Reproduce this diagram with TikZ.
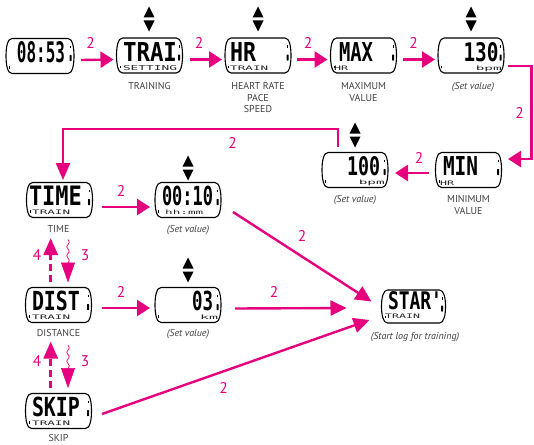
\documentclass[tikz,border=0pt]{standalone}
\usepackage{fontspec}
\setmainfont{PT Sans}
\newfontfamily\lcdfont{DejaVu Sans Mono}
\usetikzlibrary{arrows.meta,decorations.pathmorphing}
\definecolor{mag}{HTML}{E6007E}
\definecolor{capgray}{HTML}{3F3F3F}
\tikzset{
  pics/watch/.style 2 args={code={
    \draw[line width=1.1pt, line join=round] (-#1+6,-#2) -- (#1-6,-#2)
      .. controls (#1-1.5,-#2) and (#1,-#2*0.5) .. (#1,0)
      .. controls (#1,#2*0.5) and (#1-1.5,#2) .. (#1-6,#2) -- (-#1+6,#2)
      .. controls (-#1+1.5,#2) and (-#1,#2*0.5) .. (-#1,0)
      .. controls (-#1,-#2*0.5) and (-#1+1.5,-#2) .. cycle;
    \fill[rounded corners=0.5pt] (#1-4.5,-1) rectangle (#1-2.5,5);
    \draw[line width=0.6pt] (#1-3.5,-#2+7) -- (#1-3.5,-#2+9.5);
    \draw[line width=0.6pt] (-#1+3.5,#2-5) -- (-#1+3.5,#2-7.5);
  }},
  pics/updown/.style={code={
    \fill (0,-12.5) -- (5.5,-1.5) -- (-5.5,-1.5) -- cycle;
    \fill (0,12.5) -- (5.5,1.5) -- (-5.5,1.5) -- cycle;
  }},
  body/.style={minimum width=66pt, minimum height=35pt, inner sep=0pt, outer sep=0pt},
  lcd/.style={inner sep=0pt, font=\lcdfont\bfseries},
  sub/.style={inner sep=0pt, text=black!85, font=\lcdfont},
  capt/.style={inner sep=0pt, anchor=north, text=capgray, font=\fontsize{10}{11.5}\selectfont, align=center},
  capone/.style={inner sep=0pt, anchor=north, text=capgray, font=\fontsize{10}{11.5}\selectfont},
  setv/.style={capone, font=\fontsize{10}{11.5}\selectfont\itshape},
  num/.style={inner sep=0pt, text=mag, font=\fontsize{15.5}{15.5}\selectfont},
  conn/.style={draw=mag, line width=2.4pt, -{Triangle[length=13pt,width=16pt]}},
  conndiag/.style={draw=mag, line width=2.4pt, -{Triangle[length=16pt,width=15pt]}},
  back/.style={draw=mag, line width=3pt, dash pattern=on 7pt off 4pt, -{Triangle[length=17pt,width=14pt]}},
  wavy/.style={draw=mag, line width=0.7pt, decorate,
    decoration={snake, amplitude=1.3pt, segment length=9pt, post length=17pt},
    -{Triangle[length=20pt,width=14pt]}},
}
\begin{document}
\begin{tikzpicture}[x=1pt,y=-1pt]
\useasboundingbox (0,0) rectangle (534,444);

% ---------- watch bodies ----------
\node[body, minimum width=68pt] (w1) at (40,56) {};
\node[body] (w2) at (149.5,55.5) {};
\node[body] (w3) at (258,55.5) {};
\node[body] (w4) at (363.5,55.5) {};
\node[body] (w5) at (471,55.5) {};
\node[body] (w6) at (468.5,170) {};
\node[body] (w7) at (355,170) {};
\node[body] (w8) at (59.5,200) {};
\node[body] (w9) at (188,200) {};
\node[body] (w10) at (58.5,305) {};
\node[body] (w11) at (188,305) {};
\node[body] (w12) at (58.5,411) {};
\node[body, minimum width=64pt, minimum height=33pt] (w13) at (413.5,306.5) {};

\path (w1) pic {watch={34}{17.5}};
\foreach \w in {w2,w3,w4,w5,w6,w7,w8,w9,w10,w11,w12} {\path (\w) pic {watch={33}{17.5}};}
\path (w13) pic {watch={32}{16.5}};

% ---------- LCD texts ----------
\node[lcd] (t1) at (41,52) {\resizebox{48pt}{21pt}{08:53}};
\node[lcd] (t2) at (150,52) {\resizebox{54pt}{19pt}{TRAI}};
\node[sub] (s2) at (150,68.5) {\resizebox{54pt}{5pt}{SETTING}};
\node[lcd] (t3) at (243,52) {\resizebox{26pt}{19pt}{HR}};
\node[sub, anchor=west] (s3) at (230,68.5) {\resizebox{38pt}{4.5pt}{TRAIN}};
\node[lcd] (t4) at (356,52) {\resizebox{34pt}{19pt}{MAX}};
\node[sub, anchor=west] (s4) at (334,68.5) {\resizebox{14pt}{4.5pt}{HR}};
\node[lcd] (t5) at (481,52) {\resizebox{35pt}{19pt}{130}};
\node[sub, anchor=east] (s5) at (502,68.5) {\resizebox{26pt}{4.5pt}{bpm}};
\node[lcd] (t6) at (460.5,166) {\resizebox{35pt}{19pt}{MIN}};
\node[sub, anchor=west] (s6) at (440,183) {\resizebox{14pt}{4.5pt}{HR}};
\node[lcd] (t7) at (363.5,166) {\resizebox{33pt}{19pt}{100}};
\node[sub, anchor=east] (s7) at (385,183) {\resizebox{26pt}{4.5pt}{bpm}};
\node[lcd] (t8) at (55.5,196) {\resizebox{53pt}{19.5pt}{TIME}};
\node[sub, anchor=west] (s8) at (32,212) {\resizebox{38pt}{4.5pt}{TRAIN}};
\node[lcd] (t9) at (187.5,196) {\resizebox{51pt}{19.5pt}{00:10}};
\node[sub, anchor=west] (s9) at (165,212) {\resizebox{38pt}{4.5pt}{hh:mm}};
\node[lcd] (t10) at (56,301) {\resizebox{48pt}{19.5pt}{DIST}};
\node[sub, anchor=west] (s10) at (32,317) {\resizebox{38pt}{4.5pt}{TRAIN}};
\node[lcd] (t11) at (202.5,301) {\resizebox{21pt}{19.5pt}{03}};
\node[sub, anchor=west] (s11) at (200,317) {\resizebox{18pt}{4.5pt}{km}};
\node[lcd] (t12) at (56,407) {\resizebox{48pt}{19.5pt}{SKIP}};
\node[sub, anchor=west] (s12) at (32,423) {\resizebox{38pt}{4.5pt}{TRAIN}};
\node[lcd] (t13) at (415,301) {\resizebox{54pt}{18pt}{STAR'}};
\node[sub, anchor=west] (s13) at (385,316.5) {\resizebox{35pt}{4.5pt}{TRAIN}};

% ---------- up/down symbols ----------
\path (149,19) pic {updown};
\path (258,19) pic {updown};
\path (471,19) pic {updown};
\path (355,135) pic {updown};
\path (188,168) pic {updown};
\path (188,270) pic {updown};

% ---------- captions ----------
\node[capone] (c2) at (149.5,82.5) {TRAINING};
\node[capt] (c3) at (258,82.5) {HEART RATE\\PACE\\SPEED};
\node[capt] (c4) at (363.5,82.5) {MAXIMUM\\VALUE};
\node[setv] (c5) at (473,82.5) {(Set value)};
\node[capt] (c6) at (468.5,195.5) {MINIMUM\\VALUE};
\node[setv] (c7) at (355,195.5) {(Set value)};
\node[capone] (c8) at (58.5,225) {TIME};
\node[setv] (c9) at (188,225) {(Set value)};
\node[capone] (c10) at (58.5,329.5) {DISTANCE};
\node[setv] (c11) at (188,329.5) {(Set value)};
\node[capone] (c12) at (58.5,434) {SKIP};
\node[setv] (c13) at (415,332) {(Start log for training)};

% ---------- connectors ----------
\draw[conn] ([shift={(7,4)}]w1.east) -- ([shift={(-3,4)}]w2.west);
\draw[conn] ([shift={(7,4)}]w2.east) -- ([shift={(-3,4)}]w3.west);
\draw[conn] ([shift={(6,4)}]w3.east) -- ([shift={(-3,4)}]w4.west);
\draw[conn] ([shift={(6,4)}]w4.east) -- ([shift={(-3,4)}]w5.west);

\coordinate (k1) at (531.5,66);
\draw[conn] ([shift={(3.5,10.5)}]w5.east) -- (k1) |- ([shift={(6.5,-11)}]w6.east);
\draw[conn] ([shift={(-6.5,3)}]w6.west) -- ([shift={(7,3)}]w7.east);

\coordinate (k2) at (63,129);
\draw[conn, -{Triangle[length=17pt,width=14pt]}] ([shift={(-17,-6)}]w7.north) |- (k2) -- ([shift={(3.5,-2.5)}]w8.north);

\draw[conn] ([shift={(9.5,7)}]w8.east) -- ([shift={(-5,7)}]w9.west);
\draw[conndiag] ([shift={(12,12)}]w9.east) -- ([shift={(-10,-5)}]w13.west);
\draw[conn] ([shift={(10.5,3)}]w10.east) -- ([shift={(-5,3)}]w11.west);
\draw[conndiag] ([shift={(14,3.5)}]w11.east) -- ([shift={(-35,1.5)}]w13.west);
\draw[conndiag] ([shift={(10.5,3)}]w12.east) -- ([shift={(-12,13.5)}]w13.west);

% TIME <-> DIST
\draw[back] ([shift={(-7.8,-5.5)}]w10.north) -- ([shift={(-8.8,20.5)}]w8.south);
\draw[wavy] ([shift={(8.5,22)}]w8.south) -- ([shift={(9.5,-5)}]w10.north);
% DIST <-> SKIP
\draw[back] ([shift={(-7.8,-5.5)}]w12.north) -- ([shift={(-7.8,19)}]w10.south);
\draw[wavy] ([shift={(9.5,22.5)}]w10.south) -- ([shift={(9.5,-5.5)}]w12.north);

% ---------- step numbers ----------
\node[num] (n1) at (90.5,42.5) {2};
\node[num] (n2) at (199,42.5) {2};
\node[num] (n3) at (308,42.5) {2};
\node[num] (n4) at (413.5,42.5) {2};
\node[num] (n5) at (519.5,113) {2};
\node[num] (n6) at (419,158) {2};
\node[num] (n7) at (232.5,143) {2};
\node[num] (n8) at (121,190.5) {2};
\node[num] (n9) at (302,236) {2};
\node[num] (n10) at (121,292) {2};
\node[num] (n11) at (274,292) {2};
\node[num] (n12) at (223.5,387.5) {2};
\node[num] (n13) at (37,255) {4};
\node[num] (n14) at (85,255) {3};
\node[num] (n15) at (37,361) {4};
\node[num] (n16) at (85,361) {3};
\end{tikzpicture}
\end{document}
